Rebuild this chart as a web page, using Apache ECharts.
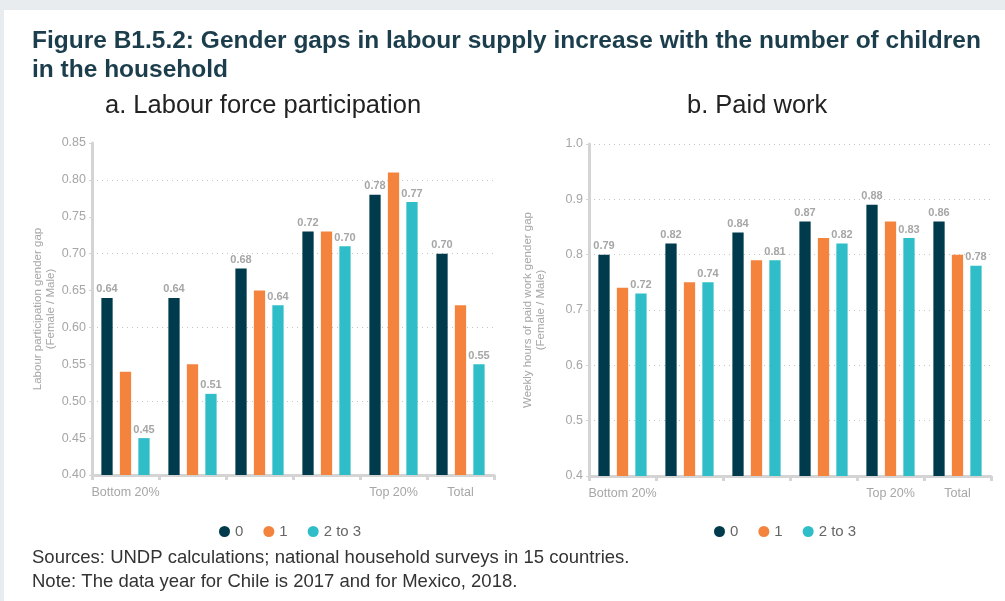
<!DOCTYPE html>
<html>
<head>
<meta charset="utf-8">
<script src="https://cdn.jsdelivr.net/npm/echarts@6/dist/echarts.min.js"></script>
<style>
html,body{margin:0;padding:0;background:#e8ecef;}
#c{position:absolute;left:0;top:0;width:1005px;height:601px;}
</style>
</head>
<body>
<div id="c"></div>
<script>
// ---- data ----
const categories = ['Bottom 20%', '', '', '', 'Top 20%', 'Total'];
const seriesNames = ['0', '1', '2 to 3'];

// a. Labour force participation (bar heights)
const lfp0 = [0.64, 0.64, 0.68, 0.73, 0.78, 0.70];
const lfp1 = [0.54, 0.55, 0.65, 0.73, 0.81, 0.63];
const lfp2 = [0.45, 0.51, 0.63, 0.71, 0.77, 0.55];
// printed labels
const lfp0Labels = ['0.64', '0.64', '0.68', '0.72', '0.78', '0.70'];
const lfp2Labels = ['0.45', '0.51', '0.64', '0.70', '0.77', '0.55'];

// b. Paid work (bar heights)
const pw0 = [0.80, 0.82, 0.84, 0.86, 0.89, 0.86];
const pw1 = [0.74, 0.75, 0.79, 0.83, 0.86, 0.80];
const pw2 = [0.73, 0.75, 0.79, 0.82, 0.83, 0.78];
// printed labels
const pw0Labels = ['0.79', '0.82', '0.84', '0.87', '0.88', '0.86'];
const pw2Labels = ['0.72', '0.74', '0.81', '0.82', '0.83', '0.78'];

const colors = ['#003b4d', '#f4843d', '#2fbec8'];

const titleText = 'Figure B1.5.2: Gender gaps in labour supply increase with the number of children\nin the household';
const subA = 'a. Labour force participation';
const subB = 'b. Paid work';
const yNameA = 'Labour participation gender gap\n(Female / Male)';
const yNameB = 'Weekly hours of paid work gender gap\n(Female / Male)';
const note1 = 'Sources: UNDP calculations; national household surveys in 15 countries.';
const note2 = 'Note: The data year for Chile is 2017 and for Mexico, 2018.';

// ---- chart ----
const chart = echarts.init(document.getElementById('c'), null, {renderer: 'canvas'});
const axisGray = '#d4d4d4';
const labelGray = '#a6a6a6';
const FONT = '"Liberation Sans", Arial, sans-serif';

function xAxis(gi) {
  return {
    type: 'category', gridIndex: gi, data: categories,
    axisLine: {lineStyle: {color: axisGray, width: 3}},
    axisTick: {show: true, length: 5, lineStyle: {color: axisGray, width: 3}},
    axisLabel: {color: labelGray, fontSize: 12.5, margin: 11, fontFamily: FONT, interval: 0}
  };
}
function yAxis(gi, min, max, interval, dec, name, gap, gridColors) {
  return {
    type: 'value', gridIndex: gi, min: min, max: max, interval: interval,
    name: name, nameLocation: 'middle', nameGap: gap, nameRotate: 90,
    nameTextStyle: {color: labelGray, fontSize: 11.5, fontFamily: FONT, lineHeight: 13},
    axisLine: {show: true, lineStyle: {color: axisGray, width: 3}},
    axisTick: {show: true, length: 3, lineStyle: {color: axisGray, width: 1}},
    axisLabel: {color: labelGray, fontSize: 12.5, margin: 6, fontFamily: FONT,
      formatter: v => v.toFixed(dec)},
    splitLine: {show: true, lineStyle: {color: gridColors, type: [1, 4], width: 1}}
  };
}
function labelFn(arr) {
  return {
    show: true, position: 'top', distance: 3, color: labelGray, fontSize: 11,
    fontWeight: 'bold', fontFamily: FONT,
    formatter: p => arr[p.dataIndex]
  };
}
function bar(name, data, gi, ci, labels) {
  return {
    type: 'bar', name: name, xAxisIndex: gi, yAxisIndex: gi, data: data,
    barGap: '64%', barCategoryGap: '28%',
    itemStyle: {color: colors[ci]},
    label: labels ? labelFn(labels) : {show: false},
    emphasis: {disabled: true}
  };
}

const option = {
  animation: false,
  backgroundColor: '#e8ecef',
  textStyle: {fontFamily: FONT},
  graphic: [
    {type: 'rect', shape: {x: 4, y: 10, width: 1001, height: 591}, style: {fill: '#ffffff'}, z: -10},
    {type: 'text', left: 32, top: 548, style: {text: note1, fill: '#333333', font: '18.5px ' + FONT}},
    {type: 'text', left: 32, top: 572, style: {text: note2, fill: '#333333', font: '18.5px ' + FONT}}
  ],
  title: [
    {text: titleText, left: 32, top: 27, padding: 0,
     textStyle: {color: '#1b3d4c', fontSize: 24.5, fontWeight: 'bold', lineHeight: 29, fontFamily: FONT}},
    {text: subA, left: 105, top: 93, padding: 0,
     textStyle: {color: '#222222', fontSize: 25.5, fontWeight: 'normal', fontFamily: FONT}},
    {text: subB, left: 687, top: 93, padding: 0,
     textStyle: {color: '#222222', fontSize: 25.5, fontWeight: 'normal', fontFamily: FONT}}
  ],
  legend: [
    {data: seriesNames, left: 214, top: 519, icon: 'circle', itemWidth: 11, itemHeight: 11, itemGap: 20,
     textStyle: {color: '#666666', fontSize: 15, fontFamily: FONT}, selectedMode: false},
    {data: seriesNames, left: 709, top: 519, icon: 'circle', itemWidth: 11, itemHeight: 11, itemGap: 20,
     textStyle: {color: '#666666', fontSize: 15, fontFamily: FONT}, selectedMode: false}
  ],
  grid: [
    {left: 92, top: 143, width: 402, height: 332, containLabel: false},
    {left: 589, top: 144, width: 402, height: 332, containLabel: false}
  ],
  xAxis: [xAxis(0), xAxis(1)],
  yAxis: [
    yAxis(0, 0.4, 0.85, 0.05, 2, yNameA, 35, ['#c4c4c4', 'rgba(0,0,0,0)']),
    yAxis(1, 0.4, 1.0, 0.1, 1, yNameB, 42, ['#c4c4c4'])
  ],
  series: [
    bar(seriesNames[0], lfp0, 0, 0, lfp0Labels),
    bar(seriesNames[1], lfp1, 0, 1, null),
    bar(seriesNames[2], lfp2, 0, 2, lfp2Labels),
    bar(seriesNames[0], pw0, 1, 0, pw0Labels),
    bar(seriesNames[1], pw1, 1, 1, null),
    bar(seriesNames[2], pw2, 1, 2, pw2Labels)
  ]
};
chart.setOption(option);
</script>
</body>
</html>
